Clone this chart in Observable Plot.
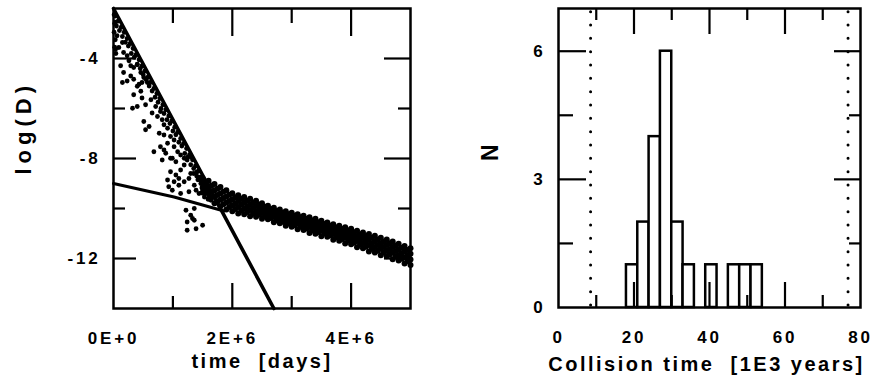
<!DOCTYPE html>
<html><head><meta charset="utf-8">
<script src="https://cdn.jsdelivr.net/npm/d3@7"></script>
<script src="https://cdn.jsdelivr.net/npm/@observablehq/plot@0.6"></script>
<style>
html,body{margin:0;padding:0;background:#fff;}
#wrap{display:flex;width:874px;height:381px;overflow:hidden;}
#wrap svg{display:block;background:#fff;}
svg text{font-family:"Liberation Sans",Arial,sans-serif;font-weight:bold;fill:#000;}
g[aria-label="x-axis tick label"] text, g[aria-label="y-axis tick label"] text{font-size:17px;letter-spacing:2.8px;}
text[aria-label="axis-title"]{font-size:20px;letter-spacing:2.5px;}
text[aria-label="axis-title-y"]{font-size:22px;letter-spacing:5px;}
text[aria-label="axis-title-n"]{font-size:23px;}
</style></head><body><div id="wrap"></div>
<script>
// ---------- Left panel: log(D) vs time ----------
const timeTicks = [0, 2, 4];              // in 1E6 days
const timeTickLabels = ["0E+0", "2E+6", "4E+6"];
const timeMinorTicks = [1, 3];
const logDTicks = [-4, -8, -12];
const logDTickLabels = ["-4", "-8", "-12"];
const logDMinorTicks = [-6, -10];
const timeTitle = "time\u00A0\u00A0[days]";
const logDTitle = "log(D)";

// steep and shallow fitted lines
const steepLineTime = [0, 2.7];
const steepLineLogD = [-2, -14];
const shallowLineTime = [0, 1.02, 1.86];
const shallowLineLogD = [-9, -9.54, -10.1];

// early scatter (below the steep line)
const scatterTime = [0.01,0.02,0.01,0.03,0.02,0.04,0.034,0.06,0.034,0.09,0.15,0.17,0.23,0.26,0.29,0.34,0.40,0.46,0.51,0.12,0.17,0.15,0.23,0.34,0.29,0.48,0.57,0.43,
 0.03,0.08,0.13,0.18,0.23,0.28,0.33,0.38,0.43,0.48,0.53,0.58,0.63,0.68,0.73,0.78,0.83,0.88,0.93,0.98,1.03,1.08,1.13,1.18,1.23,1.28,1.33,1.38,1.43,1.48,
 0.05,0.10,0.15,0.20,0.25,0.30,0.35,0.40,0.45,0.50,0.55,0.60,0.65,0.70,0.75,0.80,0.85,0.90,0.95,1.00,1.05,1.10,1.15,1.20,1.25,1.30,1.35,1.40,1.45,
 0.40,0.46,0.34,0.48,0.54,0.40,0.63,0.71,0.79,0.65,0.74,0.82,0.85,0.91,0.51,0.54,0.60,0.77,0.85,0.96,1.02,0.91,0.79,0.68,0.85,1.02,1.08,1.13,1.19,1.24,1.30,0.82,0.96,0.32,
 0.88,0.99,1.05,0.96,1.05,1.13,1.19,1.10,1.02,0.93,0.99,1.10,1.19,1.27,1.30,1.36,1.39,1.44,1.50,1.53,1.61,1.64,1.27,1.13,0.91,
 1.22,1.30,1.36,1.24,1.39,1.50,1.36,1.24,1.33,1.40,1.45,1.52,1.55,1.58,1.47,1.42,1.35];
const scatterLogD = [-2.25,-2.6,-2.95,-3.25,-3.55,-3.8,-2.55,-3.09,-3.63,-3.56,-3.36,-3.76,-3.89,-4.09,-4.29,-4.36,-4.23,-4.56,-4.76,-4.29,-4.56,-4.96,-4.9,-4.83,-4.7,-4.96,-4.96,-5.03,
 -2.3,-2.5,-2.75,-2.95,-3.2,-3.4,-3.6,-3.85,-4.05,-4.3,-4.5,-4.75,-4.95,-5.2,-5.4,-5.6,-5.85,-6.05,-6.3,-6.5,-6.75,-6.95,-7.2,-7.4,-7.6,-7.85,-8.05,-8.3,-8.5,-8.75,
 -2.7,-2.88,-3.12,-3.35,-3.5,-3.8,-3.95,-4.25,-4.4,-4.65,-4.85,-5.1,-5.3,-5.55,-5.75,-6.0,-6.2,-6.45,-6.6,-6.9,-7.05,-7.35,-7.5,-7.8,-7.95,-8.25,-8.4,-8.7,-8.85,
 -5.11,-5.31,-5.45,-5.58,-5.85,-5.92,-5.65,-5.92,-6.12,-6.18,-6.32,-6.45,-6.65,-6.79,-6.52,-6.85,-6.72,-6.99,-7.06,-7.12,-7.26,-7.39,-7.53,-7.73,-7.66,-7.53,-7.73,-7.86,-7.99,-8.06,-7.93,-8.06,-7.99,-5.99,
 -7.79,-7.99,-8.13,-8.53,-8.66,-8.46,-8.26,-8.8,-8.93,-9.13,-9.27,-9.07,-8.93,-8.8,-8.6,-9.07,-9.27,-9.4,-9.13,-9.54,-9.47,-9.67,-9.33,-9.4,-8.86,
 -10.07,-10.27,-10.47,-10.54,-10.81,-10.67,-10.0,-10.87,-10.4,-8.55,-8.75,-8.95,-9.2,-9.3,-9.0,-8.85,-8.6];

// late band (tracks of points)
const bandTimeA = [1.5,1.6,1.7,1.8,1.9,2.0,2.1,2.2,2.3,2.4,2.5,2.6,2.7,2.8,2.9,3.0,3.1,3.2,3.3,3.4,3.5,3.6,3.7,3.8,3.9,4.0,4.1,4.2,4.3,4.4,4.5,4.6,4.7,4.8,4.9,5.0];
const bandA1 = [-8.79,-8.89,-9.02,-9.14,-9.27,-9.39,-9.47,-9.54,-9.61,-9.69,-9.79,-9.89,-9.97,-10.04,-10.11,-10.17,-10.23,-10.29,-10.35,-10.41,-10.49,-10.56,-10.63,-10.69,-10.75,-10.81,-10.89,-10.96,-11.02,-11.09,-11.17,-11.24,-11.32,-11.41,-11.50,-11.59];
const bandA2 = [-8.98,-9.13,-9.27,-9.40,-9.52,-9.63,-9.70,-9.77,-9.83,-9.90,-9.99,-10.07,-10.15,-10.22,-10.29,-10.36,-10.42,-10.48,-10.55,-10.61,-10.68,-10.75,-10.82,-10.89,-10.95,-11.02,-11.10,-11.17,-11.24,-11.31,-11.39,-11.46,-11.54,-11.63,-11.72,-11.81];
const bandA3 = [-9.17,-9.37,-9.51,-9.65,-9.76,-9.87,-9.94,-10.00,-10.06,-10.12,-10.18,-10.25,-10.33,-10.41,-10.48,-10.54,-10.60,-10.67,-10.74,-10.81,-10.88,-10.94,-11.02,-11.09,-11.16,-11.22,-11.30,-11.38,-11.46,-11.54,-11.61,-11.69,-11.77,-11.86,-11.95,-12.04];
const bandA4 = [-9.36,-9.61,-9.79,-9.91,-10.04,-10.11,-10.2,-10.23,-10.31,-10.33,-10.41,-10.43,-10.55,-10.59,-10.69,-10.73,-10.83,-10.86,-10.98,-11.01,-11.11,-11.13,-11.25,-11.29,-11.4,-11.43,-11.55,-11.59,-11.72,-11.76,-11.87,-11.91,-12.03,-12.08,-12.2,-12.26];
const bandTimeB = [1.55,1.65,1.75,1.85,1.95,2.05,2.15,2.25,2.35,2.45,2.55,2.65,2.75,2.85,2.95,3.05,3.15,3.25,3.35,3.45,3.55,3.65,3.75,3.85,3.95,4.05,4.15,4.25,4.35,4.45,4.55,4.65,4.75,4.85,4.95];
const bandB1 = [-8.95,-9.08,-9.21,-9.33,-9.45,-9.55,-9.62,-9.69,-9.76,-9.84,-9.93,-10.02,-10.10,-10.17,-10.23,-10.29,-10.35,-10.42,-10.48,-10.55,-10.62,-10.69,-10.76,-10.82,-10.88,-10.95,-11.03,-11.10,-11.17,-11.24,-11.32,-11.39,-11.48,-11.57,-11.66];
const bandB2 = [-9.16,-9.32,-9.46,-9.58,-9.70,-9.79,-9.85,-9.92,-9.98,-10.05,-10.12,-10.20,-10.28,-10.35,-10.42,-10.48,-10.54,-10.61,-10.68,-10.75,-10.81,-10.88,-10.96,-11.02,-11.09,-11.16,-11.24,-11.31,-11.39,-11.46,-11.54,-11.62,-11.70,-11.79,-11.88];
const bandB3 = [-9.38,-9.56,-9.71,-9.83,-9.94,-10.02,-10.09,-10.14,-10.20,-10.25,-10.31,-10.38,-10.46,-10.53,-10.60,-10.67,-10.73,-10.80,-10.88,-10.94,-11.00,-11.07,-11.15,-11.22,-11.29,-11.37,-11.45,-11.53,-11.61,-11.69,-11.76,-11.84,-11.92,-12.01,-12.10];

// ---------- Right panel: histogram ----------
const binStart = [18, 21, 24, 27, 30, 33, 39, 45, 48, 51];
const binEnd   = [21, 24, 27, 30, 33, 36, 42, 48, 51, 54];
const binCount = [1, 2, 4, 6, 2, 1, 1, 1, 1, 1];
const dottedLimits = [8.5, 76.7];
const collTicks = [0, 20, 40, 60, 80];
const collTickLabels = ["0", "20", "40", "60", "80"];
const collMinorTicks = [10, 30, 50, 70];
const collLongTicks = [20, 40, 60];
const nTicks = [0, 3, 6];
const nTickLabels = ["0", "3", "6"];
const nLongTicks = [3, 6];
const nMinorTicks = [1.5, 4.5];
const collTitle = "Collision time\u00A0\u00A0[1E3 years]";
const nTitle = "N";

// ---------- helpers ----------
function ticksIn(axisFn, values, anchor, size, sw = 2.2) {
  const shift = {bottom: {dy: -size}, top: {dy: size}, left: {dx: size}, right: {dx: -size}}[anchor];
  return axisFn(values, {anchor, tickSize: size, fill: "none", label: null, strokeWidth: sw, stroke: "#000", ...shift});
}
function lookup(values, labels) { return d => labels[values.indexOf(d)]; }
const tag = (name) => () => name;

const shallow = shallowLineTime.map((t, i) => ({time: t, logD: shallowLineLogD[i]}));
const steep = steepLineTime.map((t, i) => ({time: t, logD: steepLineLogD[i]}));
const points = scatterTime.map((t, i) => ({time: t, logD: scatterLogD[i]}));
const band = [];
for (const row of [bandA1, bandA2, bandA3, bandA4]) bandTimeA.forEach((t, i) => band.push({time: t, logD: row[i]}));
for (const row of [bandB1, bandB2, bandB3]) bandTimeB.forEach((t, i) => band.push({time: t, logD: row[i]}));

const left = Plot.plot({
  width: 440, height: 381,
  marginLeft: 113, marginRight: 30, marginTop: 8, marginBottom: 73,
  style: {background: "#fff", color: "#000", overflow: "visible"},
  x: {domain: [0, 5], axis: null},
  y: {domain: [-14, -2], axis: null},
  marks: [
    Plot.dot(points, {x: "time", y: "logD", r: 2.4, fill: "#000", stroke: null}),
    Plot.dot(band, {x: "time", y: "logD", r: 3, fill: "#000", stroke: null}),
    Plot.line(shallow, {x: "time", y: "logD", stroke: "#000", strokeWidth: 3}),
    Plot.line(steep, {x: "time", y: "logD", stroke: "#000", strokeWidth: 3.6}),
    ticksIn(Plot.axisX, timeTicks.slice(1), "bottom", 25),
    ticksIn(Plot.axisX, timeMinorTicks, "bottom", 12),
    ticksIn(Plot.axisX, timeTicks.slice(1), "top", 27),
    ticksIn(Plot.axisX, timeMinorTicks, "top", 14),
    ticksIn(Plot.axisY, logDTicks, "left", 23),
    ticksIn(Plot.axisY, logDMinorTicks, "left", 12),
    ticksIn(Plot.axisY, logDTicks, "right", 27),
    ticksIn(Plot.axisY, logDMinorTicks, "right", 13),
    Plot.frame({stroke: "#000", strokeWidth: 2.5}),
    Plot.axisX(timeTicks, {anchor: "bottom", tickSize: 0, tickPadding: 23, tickFormat: lookup(timeTicks, timeTickLabels), fontSize: 17, label: null}),
    Plot.axisY(logDTicks, {anchor: "left", tickSize: 0, tickPadding: 13, tickFormat: lookup(logDTicks, logDTickLabels), fontSize: 17, label: null}),
    Plot.text([timeTitle], {frameAnchor: "bottom", dy: 59, fontSize: 20, ariaLabel: tag("axis-title")}),
    Plot.text([logDTitle], {frameAnchor: "left", rotate: -90, dx: -90, dy: 16, fontSize: 22, ariaLabel: tag("axis-title-y")})
  ]
});

const bars = binStart.map((s, i) => ({x1: s, x2: binEnd[i], n: binCount[i]}));
const right = Plot.plot({
  width: 434, height: 381,
  marginLeft: 118, marginRight: 14, marginTop: 8, marginBottom: 74,
  style: {background: "#fff", color: "#000", overflow: "visible"},
  x: {domain: [0, 80], axis: null},
  y: {domain: [0, 7], axis: null},
  marks: [
    Plot.ruleX(dottedLimits, {stroke: "#000", strokeWidth: 3, strokeDasharray: "0,13.33", strokeLinecap: "round", strokeDashoffset: -3.7}),
    Plot.rectY(bars, {x1: "x1", x2: "x2", y: "n", fill: "#fff", stroke: "#000", strokeWidth: 2.5}),
    ticksIn(Plot.axisX, collLongTicks, "bottom", 25),
    ticksIn(Plot.axisX, collMinorTicks, "bottom", 12),
    ticksIn(Plot.axisX, collLongTicks, "top", 25),
    ticksIn(Plot.axisX, collMinorTicks, "top", 11),
    ticksIn(Plot.axisY, nLongTicks, "left", 28),
    ticksIn(Plot.axisY, nMinorTicks, "left", 15),
    ticksIn(Plot.axisY, nLongTicks, "right", 27),
    ticksIn(Plot.axisY, nMinorTicks, "right", 12),
    Plot.frame({stroke: "#000", strokeWidth: 2.5}),
    Plot.axisX(collTicks, {anchor: "bottom", tickSize: 0, tickPadding: 23, tickFormat: lookup(collTicks, collTickLabels), fontSize: 17, label: null}),
    Plot.axisY(nTicks, {anchor: "left", tickSize: 0, tickPadding: 13, tickFormat: lookup(nTicks, nTickLabels), fontSize: 17, label: null}),
    Plot.text([collTitle], {frameAnchor: "bottom", dx: -3, dy: 63, fontSize: 20, ariaLabel: tag("axis-title")}),
    Plot.text([nTitle], {frameAnchor: "left", rotate: -90, dx: -68, dy: 3, fontSize: 23, ariaLabel: tag("axis-title-n")})
  ]
});

document.getElementById("wrap").append(left, right);
</script></body></html>
